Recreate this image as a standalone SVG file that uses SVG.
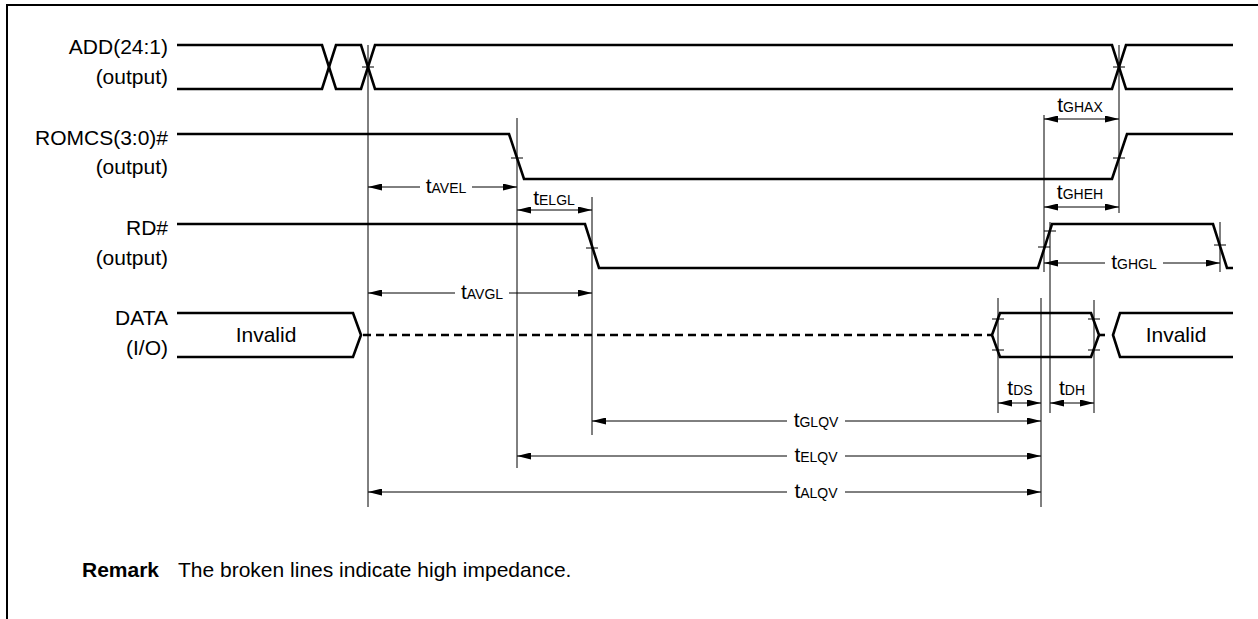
<svg xmlns="http://www.w3.org/2000/svg" width="1258" height="619" viewBox="0 0 1258 619">
<defs>
<marker id="ah" markerUnits="userSpaceOnUse" markerWidth="14" markerHeight="7" refX="14" refY="3.5" orient="auto-start-reverse">
<path d="M0,0 L14,3.5 L0,7 Z" fill="#000"/>
</marker>
<style>
.sig{fill:none;stroke:#000;stroke-width:2.6;stroke-linejoin:miter}
.thin{fill:none;stroke:#000;stroke-width:1}
.dim{fill:none;stroke:#000;stroke-width:1}
.lbl{font-family:"Liberation Sans",Arial,sans-serif;font-size:21px;fill:#000}
.t{font-family:"Liberation Sans",Arial,sans-serif;font-size:21px;fill:#000}
.s{font-size:14px}
</style>
</defs>
<rect width="1258" height="619" fill="#fff"/>
<g id="frame">
<path d="M1258,5 H7 V619" fill="none" stroke="#000" stroke-width="2"/>
</g>
<g id="labels">
<text class="lbl" x="168" y="54" text-anchor="end">ADD(24:1)</text>
<text class="lbl" x="168" y="84" text-anchor="end">(output)</text>
<text class="lbl" x="168" y="145" text-anchor="end">ROMCS(3:0)#</text>
<text class="lbl" x="168" y="174" text-anchor="end">(output)</text>
<text class="lbl" x="168" y="235" text-anchor="end">RD#</text>
<text class="lbl" x="168" y="265" text-anchor="end">(output)</text>
<text class="lbl" x="168" y="325" text-anchor="end">DATA</text>
<text class="lbl" x="168" y="355" text-anchor="end">(I/O)</text>
</g>
<g id="sig-add">
<path class="sig" d="M177,45 H322 L336,89 H361 L375,45 H1112 L1126,89 H1233"/>
<path class="sig" d="M177,89 H322 L336,45 H361 L375,89 H1112 L1126,45 H1233"/>
</g>
<g id="sig-romcs">
<path class="sig" d="M177,134 H509 L524,179 H1112 L1127,134 H1233"/>
</g>
<g id="sig-rd">
<path class="sig" d="M177,224 H585 L599,268 H1038 L1052,224 H1213 L1227,268 H1233"/>
</g>
<g id="sig-data">
<path class="sig" d="M177,313 H353 L361,335 L353,357 H177"/>
<text class="lbl" x="266" y="342" text-anchor="middle">Invalid</text>
<path class="sig" d="M363,335 H992" stroke-dasharray="8,5" stroke-width="2.2"/>
<path class="sig" d="M992,335 L1000,313 H1091 L1099,335 L1091,357 H1000 Z"/>
<path class="sig" d="M1099,335 H1105"/>
<path class="sig" d="M1233,313 H1120 L1113,335 L1120,357 H1233"/>
<text class="lbl" x="1176" y="342" text-anchor="middle">Invalid</text>
</g>
<g id="connectors">
<g id="refs">
<path class="thin" d="M368,45 V507 M517,118 V468 M592,197 V435 M1041,298 V507 M998,298 V413 M1094,300 V413 M1044,115 V272 M1050,222 V413 M1119,45 V213 M1220,222 V272"/>
<path class="thin" d="M362,67 H374 M1113,67 H1125 M511,158 H523 M1113,158 H1125 M586,248 H598 M1038,247 H1050 M1044,231 H1056 M1214,245 H1226 M992,319 H1004 M992,350 H1004 M1088,319 H1100 M1088,350 H1100"/>
</g>
<g id="dims">
<path class="dim" d="M368,187 H420" marker-start="url(#ah)"/>
<path class="dim" d="M472,187 H517" marker-end="url(#ah)"/>
<path class="dim" d="M517,210 H592" marker-start="url(#ah)" marker-end="url(#ah)"/>
<path class="dim" d="M368,293 H455" marker-start="url(#ah)"/>
<path class="dim" d="M509,293 H592" marker-end="url(#ah)"/>
<path class="dim" d="M1044,119 H1119" marker-start="url(#ah)" marker-end="url(#ah)"/>
<path class="dim" d="M1044,207 H1119" marker-start="url(#ah)" marker-end="url(#ah)"/>
<path class="dim" d="M1044,263 H1105" marker-start="url(#ah)"/>
<path class="dim" d="M1163,263 H1220" marker-end="url(#ah)"/>
<path class="dim" d="M998,403 H1041" marker-start="url(#ah)" marker-end="url(#ah)"/>
<path class="dim" d="M1050,403 H1094" marker-start="url(#ah)" marker-end="url(#ah)"/>
<path class="dim" d="M592,421 H787" marker-start="url(#ah)"/>
<path class="dim" d="M845,421 H1041" marker-end="url(#ah)"/>
<path class="dim" d="M517,456 H787" marker-start="url(#ah)"/>
<path class="dim" d="M845,456 H1041" marker-end="url(#ah)"/>
<path class="dim" d="M368,492 H787" marker-start="url(#ah)"/>
<path class="dim" d="M845,492 H1041" marker-end="url(#ah)"/>
</g>
<g id="dim-labels">
<text class="t" x="446" y="193" text-anchor="middle">t<tspan class="s">AVEL</tspan></text>
<text class="t" x="554" y="205" text-anchor="middle">t<tspan class="s">ELGL</tspan></text>
<text class="t" x="482" y="299" text-anchor="middle">t<tspan class="s">AVGL</tspan></text>
<text class="t" x="1080" y="112" text-anchor="middle">t<tspan class="s">GHAX</tspan></text>
<text class="t" x="1080" y="199" text-anchor="middle">t<tspan class="s">GHEH</tspan></text>
<text class="t" x="1134" y="269" text-anchor="middle">t<tspan class="s">GHGL</tspan></text>
<text class="t" x="1020" y="395" text-anchor="middle">t<tspan class="s">DS</tspan></text>
<text class="t" x="1072" y="395" text-anchor="middle">t<tspan class="s">DH</tspan></text>
<text class="t" x="816" y="427" text-anchor="middle">t<tspan class="s">GLQV</tspan></text>
<text class="t" x="816" y="462" text-anchor="middle">t<tspan class="s">ELQV</tspan></text>
<text class="t" x="816" y="498" text-anchor="middle">t<tspan class="s">ALQV</tspan></text>
</g>
</g>
<g id="remark">
<text class="lbl" x="82" y="577"><tspan font-weight="bold">Remark</tspan><tspan x="178">The broken lines indicate high impedance.</tspan></text>
</g>
</svg>
